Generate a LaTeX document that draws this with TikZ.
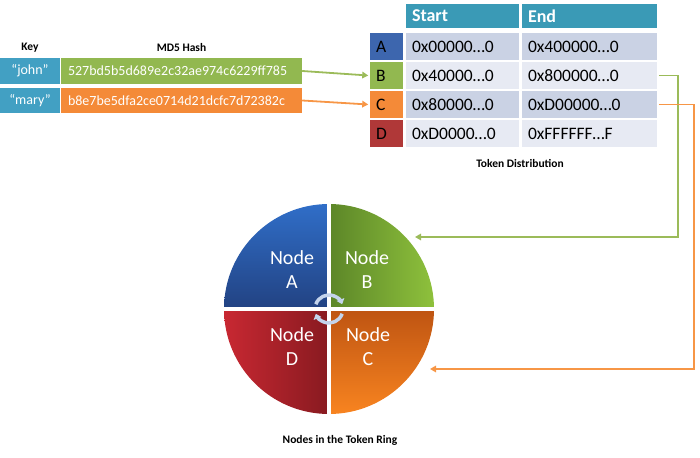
\documentclass[tikz,border=0pt]{standalone}
\usepackage{fontspec}
\setmainfont{Carlito}
\usetikzlibrary{arrows.meta, positioning}

\definecolor{keyaqua}{RGB}{66,160,195}
\definecolor{headteal}{RGB}{58,154,182}
\definecolor{hashgreen}{RGB}{146,184,80}
\definecolor{hashorange}{RGB}{244,138,56}
\definecolor{tokblue}{RGB}{61,102,174}
\definecolor{tokred}{RGB}{176,56,56}
\definecolor{banddark}{RGB}{202,210,228}
\definecolor{bandlight}{RGB}{231,234,243}
\definecolor{linkgreen}{RGB}{155,187,89}
\definecolor{linkorange}{RGB}{247,150,70}
\definecolor{ringarrowfill}{RGB}{196,212,236}

\tikzset{
  caption/.style={font=\bfseries\fontsize{11.5}{13}\selectfont},
  keycell/.style={fill=keyaqua, text=white, minimum width=60, minimum height=26,
    inner sep=0pt, font=\fontsize{14}{16}\selectfont},
  hashcell/.style={text=white, text width=227, minimum height=26, inner xsep=7pt,
    inner ysep=0pt, align=left, font=\fontsize{14}{16}\selectfont},
  headcell/.style={fill=headteal, text=white, draw=white, line width=1.5pt,
    minimum height=26, inner xsep=7pt, inner ysep=0pt, align=left,
    font=\bfseries\fontsize{18}{20}\selectfont},
  cell/.style={draw=white, line width=1.5pt, minimum height=29, inner xsep=7pt,
    inner ysep=0pt, align=left, font=\fontsize{17.5}{20}\selectfont},
  letter/.style={cell, text width=21},
  startcol/.style={cell, text width=101},
  endcol/.style={cell, text width=123},
  link/.style={line width=1.8pt, -{Triangle[length=6pt, width=6.5pt]}},
  ringarrow/.style={line width=3.5pt, ringarrowfill, -{Triangle[length=5pt, width=8pt]}},
  nodelabel/.style={text=white, align=center, font=\fontsize{20}{24}\selectfont}
}

\begin{document}
\begin{tikzpicture}[x=1pt, y=1pt]
  \useasboundingbox (0,0) rectangle (700,457);

  % keys and their hashes
  \node[caption] (keyhead) at (30,409) {Key};
  \node[caption] (hashhead) at (181.5,409) {MD5 Hash};
  \node[keycell] (keyjohn) at (30,386) {“john”};
  \node[hashcell, fill=hashgreen] (hashjohn) at (181.5,386)
    {527bd5b5d689e2c32ae974c6229ff785};
  \node[keycell, minimum height=25] (keymary) at (30,356.5) {“mary”};
  \node[hashcell, fill=hashorange, minimum height=25] (hashmary) at (181.5,356.5)
    {b8e7be5dfa2ce0714d21dcfc7d72382c};

  % token distribution table
  \node[headcell, text width=101] (hdstart) at (462.5,441) {Start};
  \node[headcell, text width=123] (hdend) at (589.5,441) {End};

  \node[letter, fill=tokblue] (tokA) at (386.5,410.5) {A};
  \node[startcol, fill=banddark] (startA) at (462.5,410.5) {0x00000…0};
  \node[endcol, fill=banddark] (endA) at (589.5,410.5) {0x400000…0};

  \node[letter, fill=hashgreen] (tokB) at (386.5,381.5) {B};
  \node[startcol, fill=bandlight] (startB) at (462.5,381.5) {0x40000…0};
  \node[endcol, fill=bandlight] (endB) at (589.5,381.5) {0x800000…0};

  \node[letter, fill=hashorange] (tokC) at (386.5,352.5) {C};
  \node[startcol, fill=banddark] (startC) at (462.5,352.5) {0x80000…0};
  \node[endcol, fill=banddark] (endC) at (589.5,352.5) {0xD00000…0};

  \node[letter, fill=tokred] (tokD) at (386.5,323.5) {D};
  \node[startcol, fill=bandlight] (startD) at (462.5,323.5) {0xD0000…0};
  \node[endcol, fill=bandlight] (endD) at (589.5,323.5) {0xFFFFFF…F};

  \node[caption] (tokcaption) at (520,293) {Token Distribution};

  % the ring, four quarters
  \coordinate (ring) at (329,148);
  \shade[top color={rgb,255:red,48;green,110;blue,200}, bottom color={rgb,255:red,34;green,66;blue,130}]
    (ring) -- ++(180:105) arc[start angle=180, end angle=90, radius=105] -- cycle;
  \shade[left color={rgb,255:red,92;green,134;blue,40}, right color={rgb,255:red,142;green,193;blue,60}]
    (ring) -- ++(90:105) arc[start angle=90, end angle=0, radius=105] -- cycle;
  \shade[top color={rgb,255:red,190;green,84;blue,18}, bottom color={rgb,255:red,248;green,132;blue,32}]
    (ring) -- ++(0:105) arc[start angle=0, end angle=-90, radius=105] -- cycle;
  \shade[left color={rgb,255:red,200;green,40;blue,50}, right color={rgb,255:red,136;green,26;blue,32}]
    (ring) -- ++(-90:105) arc[start angle=-90, end angle=-180, radius=105] -- cycle;
  \draw[white, line width=3.5pt] (ring) ++(-106,0) -- ++(212,0);
  \draw[white, line width=3.5pt] (ring) ++(0,-106) -- ++(0,212);

  \node[nodelabel] (nodeA) at (292,187) {Node\\A};
  \node[nodelabel] (nodeB) at (367,187) {Node\\B};
  \node[nodelabel] (nodeC) at (368,110) {Node\\C};
  \node[nodelabel] (nodeD) at (292,110) {Node\\D};

  % turning arrows in the middle
  \draw[ringarrow] ([shift={(160:14)}]ring) arc[start angle=160, end angle=20, radius=14];
  \draw[ringarrow] ([shift={(-20:14)}]ring) arc[start angle=-20, end angle=-160, radius=14];

  \node[caption] (ringcaption) at (340,17) {Nodes in the Token Ring};

  % hash to token, token to node
  \coordinate (inB) at (415,220);
  \coordinate (inC) at (430,88);
  \draw[link, linkgreen] (hashjohn.east) -- (tokB.west);
  \draw[link, linkorange] (hashmary.east) -- (tokC.west);
  \draw[link, linkgreen] (endB.east) -- ++(19,0) |- (inB);
  \draw[link, linkorange] (endC.east) -- ++(35,0) |- (inC);
\end{tikzpicture}
\end{document}
